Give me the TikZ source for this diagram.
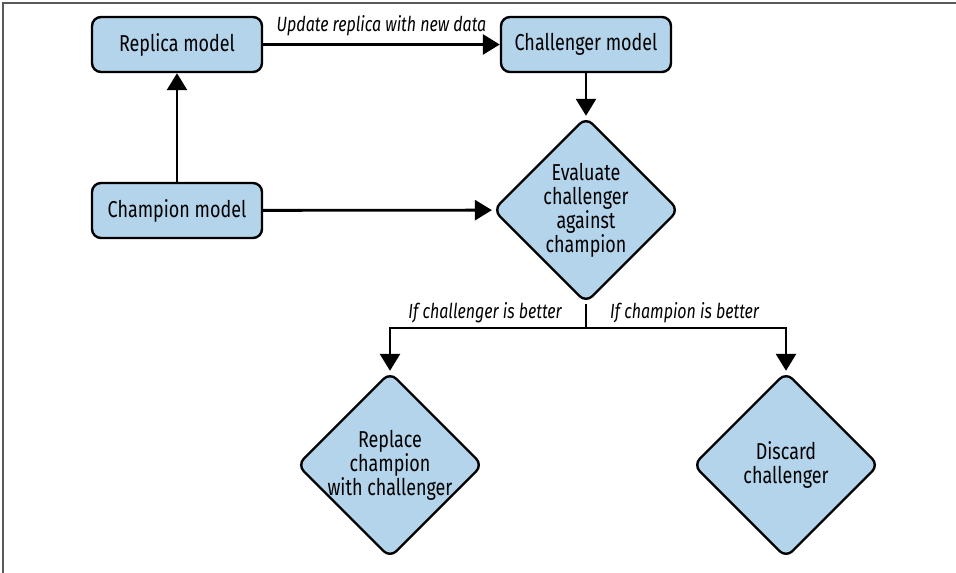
\documentclass[tikz,border=0pt]{standalone}
\usepackage{fontspec}
\setmainfont{Fira Sans}[FakeStretch=0.78]
\usepackage{tikz}
\usetikzlibrary{shapes, arrows.meta, positioning, calc}

\definecolor{boxblue}{HTML}{B3D4EA}

\tikzset{
  modelbox/.style={draw=black, fill=boxblue, line width=2.4pt, rounded corners=9pt,
    minimum width=170pt, minimum height=55pt, inner sep=0pt,
    font=\fontsize{23}{24}\selectfont},
  decision/.style={diamond, draw=black, fill=boxblue, line width=2.4pt, rounded corners=9pt,
    minimum width=186pt, minimum height=186pt, inner sep=-12pt, align=center,
    font=\fontsize{23}{24}\selectfont},
  flow/.style={line width=2.8pt, -{Triangle[length=17pt,width=20pt]}},
  edgelabel/.style={font=\itshape\fontsize{20.5}{22}\selectfont, inner sep=0pt}
}

\begin{document}
\begin{tikzpicture}[x=1pt, y=-1pt]
  \useasboundingbox (0,0) rectangle (956,573);

  % frame
  \draw[gray!70!black, line width=1.4pt] (3,573) -- (3,3) -- (956,3);

  % boxes
  \node[modelbox] (replica) at (177,44.5) {Replica model};
  \node[modelbox] (challenger) at (586,44.5) {Challenger model};
  \node[modelbox] (champion) at (177,210.5) {Champion model};

  % decisions
  \node[decision] (evaluate) at (586,210) {Evaluate\\challenger\\against\\champion};
  \node[decision] (replace) at (390,465) {Replace\\champion\\with challenger};
  \node[decision] (discard) at (786,465) {Discard\\challenger};

  % arrows
  \draw[flow] (champion) -- (replica);
  \draw[flow] (replica) -- node[edgelabel, above=7pt] {Update replica with new data} (challenger);
  \draw[flow] (challenger) -- (evaluate);
  \draw[flow] (champion) -- (evaluate);

  % branches
  \coordinate (split) at (586,328);
  \draw[line width=2.8pt] (evaluate.south) -- (split);
  \draw[flow] (split) -| (replace.north);
  \draw[flow] (split) -| (discard.north);
  \node[edgelabel, anchor=base east] (betterchal) at (562,318) {If challenger is better};
  \node[edgelabel, anchor=base west] (betterchamp) at (610,318) {If champion is better};
\end{tikzpicture}
\end{document}
